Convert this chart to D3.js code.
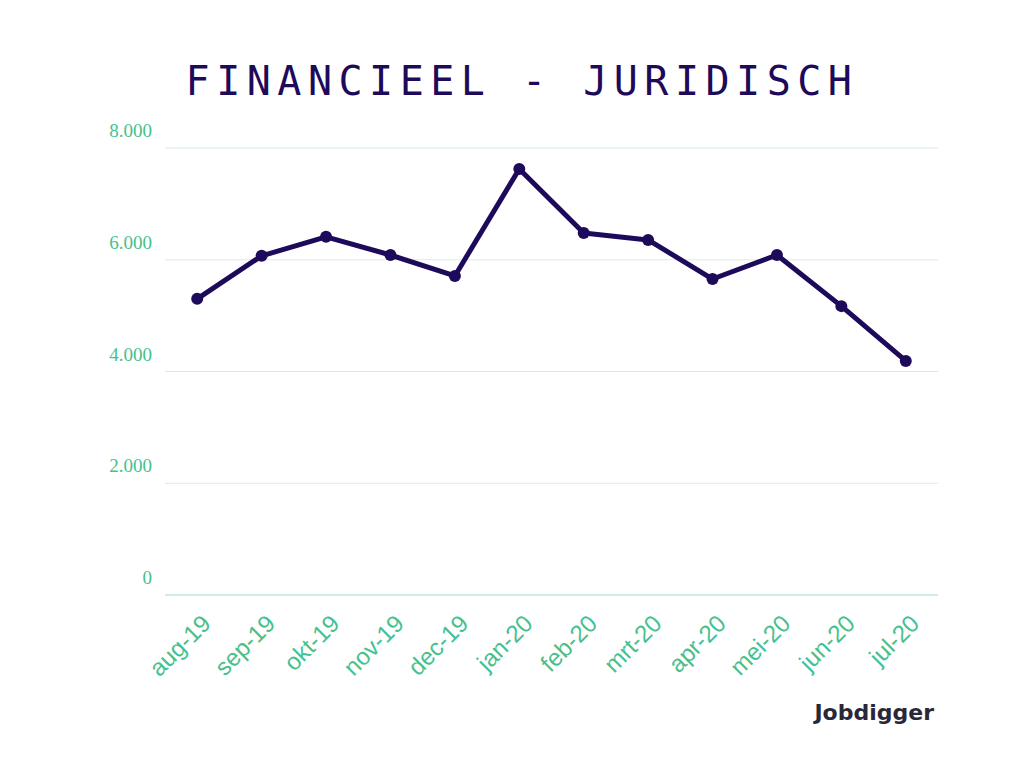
<!DOCTYPE html>
<html><head><meta charset="utf-8">
<script src="https://cdn.jsdelivr.net/npm/d3@7"></script>
<style>body{margin:0;background:#fff}</style></head>
<body><svg id="c" width="1024" height="768"></svg>
<script>
const months = ["aug-19","sep-19","okt-19","nov-19","dec-19","jan-20","feb-20","mrt-20","apr-20","mei-20","jun-20","jul-20"];
const values = [5300,6070,6410,6085,5710,7625,6480,6355,5655,6085,5170,4190];
const yTicks = [0,2000,4000,6000,8000];
const tickLabels = ["0","2.000","4.000","6.000","8.000"];

const svg = d3.select("#c");
const x = d3.scaleBand().domain(months).range([165,938]);
const y = d3.scaleLinear().domain([0,8000]).range([595,148]);
const green = "#44c18e", purple = "#1e0a5a";

svg.append("text").attr("x",522).attr("y",95).attr("text-anchor","middle")
  .attr("font-family","DejaVu Sans Mono").attr("font-size",40).attr("letter-spacing",6.5)
  .attr("fill",purple).text("FINANCIEEL - JURIDISCH");

svg.selectAll("line.g").data(yTicks).join("line")
  .attr("x1",165).attr("x2",938).attr("y1",d=>y(d)).attr("y2",d=>y(d))
  .attr("stroke",d=>d===0?"#9fdcc4":"#d3efe4").attr("stroke-width",1);

svg.selectAll("text.y").data(yTicks).join("text")
  .attr("x",152).attr("y",d=>y(d)-11).attr("text-anchor","end")
  .attr("font-family","Liberation Serif").attr("font-size",19).attr("fill",green)
  .text((d,i)=>tickLabels[i]);

svg.selectAll("text.x").data(months).join("text")
  .attr("transform",d=>`translate(${x(d)+x.bandwidth()/2+15},${625}) rotate(-45)`)
  .attr("text-anchor","end").attr("font-family","Liberation Sans").attr("font-size",24)
  .attr("fill",green).text(d=>d);

const cx = d=>x(d)+x.bandwidth()/2;
svg.append("path").datum(values)
  .attr("d",d3.line().x((d,i)=>cx(months[i])).y(d=>y(d)))
  .attr("fill","none").attr("stroke",purple).attr("stroke-width",5).attr("stroke-linejoin","round");
svg.selectAll("circle").data(values).join("circle")
  .attr("cx",(d,i)=>cx(months[i])).attr("cy",d=>y(d)).attr("r",6).attr("fill",purple);

svg.append("text").attr("x",934).attr("y",720).attr("text-anchor","end")
  .attr("font-family","DejaVu Sans").attr("font-weight","bold").attr("font-size",22)
  .attr("fill","#2a2838").text("Jobdigger");
</script></body></html>
